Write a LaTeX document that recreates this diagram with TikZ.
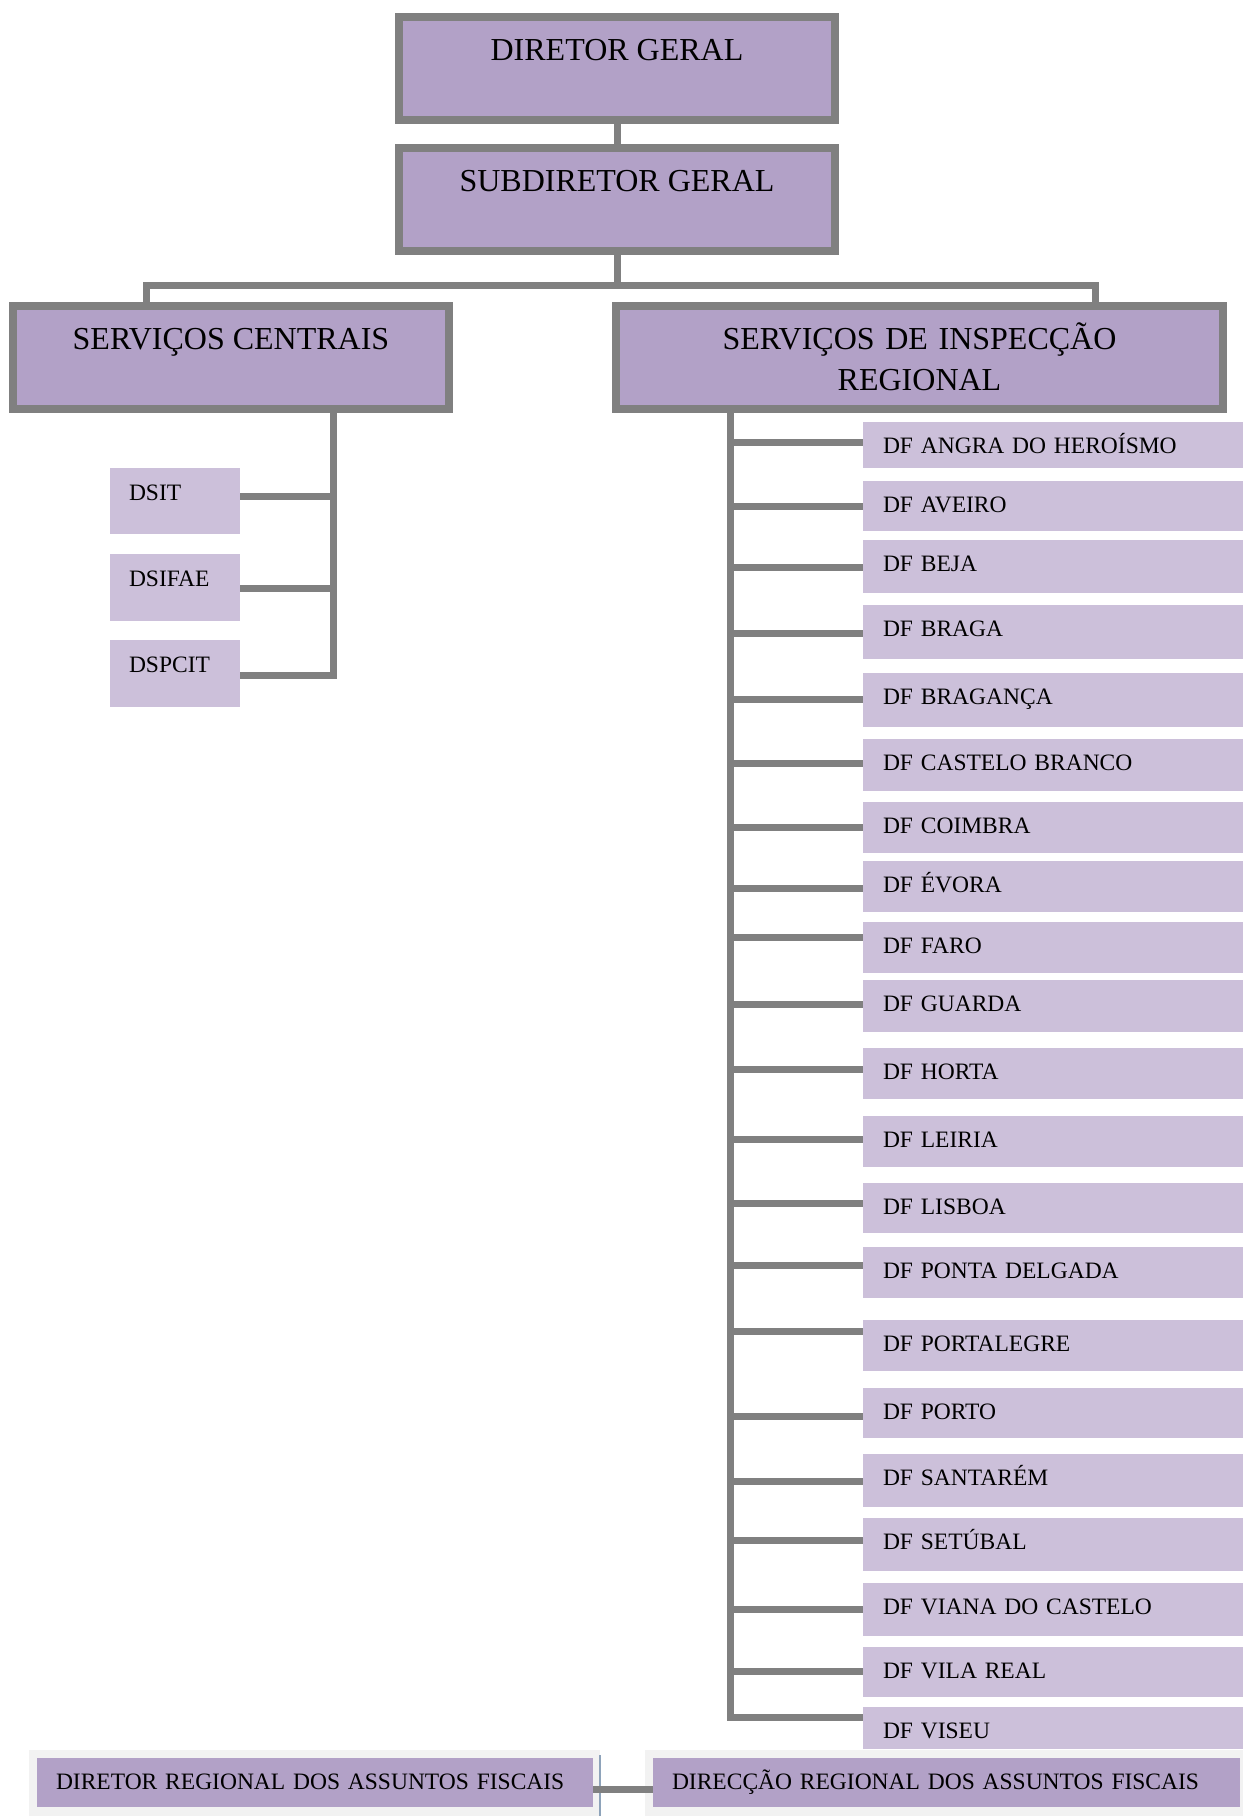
\documentclass[tikz,border=0pt]{standalone}
\usepackage{fontspec}
\setmainfont{Liberation Serif}
\usepackage{tikz}
\usetikzlibrary{positioning}
\usetikzlibrary{calc}
\definecolor{boxpurple}{HTML}{B2A1C7}
\definecolor{boxlilac}{HTML}{CCC0DA}
\definecolor{linegray}{HTML}{808080}
\definecolor{framegray}{HTML}{F2F2F2}
\definecolor{sepblue}{HTML}{8EA3BA}

\begin{document}
\begin{tikzpicture}[
  x=1pt, y=-1pt,
  every node/.style={inner sep=0pt, outer sep=0pt},
  head/.style={draw=linegray, line width=8pt, fill=boxpurple, anchor=north,
    minimum width=436pt, font=\fontsize{32}{41}\selectfont,
    text height=43pt, text depth=60pt},
  unit/.style={fill=boxlilac, anchor=north west, inner xsep=19pt, text width=92pt,
    align=left, font=\fontsize{23.5}{29}\selectfont, text height=32pt},
  dept/.style={fill=boxlilac, anchor=north west, inner xsep=20pt, text width=340pt,
    align=left, font=\fontsize{23.5}{29}\selectfont, text height=31pt},
  frame/.style={fill=framegray, anchor=north west, minimum height=66pt},
  regional/.style={fill=boxpurple, anchor=north west, inner xsep=19pt,
    align=left, font=\fontsize{23.5}{29}\selectfont, text height=31pt, text depth=18pt},
  link/.style={draw=linegray, line width=7pt}]

  \useasboundingbox (0,0) rectangle (1243,1816);

  % Position the top of the chart
  \node[head] (dg) at (617,17) {DIRETOR GERAL};
  \node[head] (sdg) at (617,148) {SUBDIRETOR GERAL};
  \node[head] (sc) at (231,306) {SERVIÇOS CENTRAIS};
  \node[head, minimum width=607pt, text width=607pt, align=center] (sir) at (919.5,306)
    {SERVIÇOS DE INSPECÇÃO\\REGIONAL};

  \coordinate (busL) at (146,285);
  \coordinate (busR) at (1095,285);
  \coordinate (lspine) at (333.5,409);
  \coordinate (spine) at (730,409);

  \draw[link] (dg.south) -- (sdg.north);
  \draw[link] (sdg.south) -- (sdg.south |- busL);
  \draw[link] (busL |- sc.north) -- (busL) -- (busR) -- (busR |- sir.north);

  % Central services
  \foreach \nm/\ya/\yb/\yc/\txt in {dsit/468/534/496/DSIT,
    dsifae/554/621/588/DSIFAE, dspcit/640/707/675/DSPCIT}
  {
    \pgfmathsetmacro\dd{\yb-\ya-32}
    \pgfmathsetmacro\dc{\yc-\ya}
    \node[unit, text depth=\dd pt] (\nm) at (110,\ya) {\txt};
    \coordinate (\nm-in) at ([yshift=-\dc pt]\nm.north east);
    \draw[link] (\nm-in) -- (lspine |- \nm-in);
  }
  \draw[link] (sc.south -| lspine) -- (lspine |- dspcit-in) -- (dspcit-in);

  % Regional services
  \foreach \nm/\ya/\yb/\yc/\txt in {
    angra/422/468/442/DF ANGRA DO HEROÍSMO,
    aveiro/481/531/506/DF AVEIRO,
    beja/540/593/567/DF BEJA,
    braga/605/659/633/DF BRAGA,
    braganca/673/727/699/DF BRAGANÇA,
    castelo/739/791/763/DF CASTELO BRANCO,
    coimbra/802/853/827/DF COIMBRA,
    evora/861/912/888/DF ÉVORA,
    faro/922/973/937/DF FARO,
    guarda/980/1032/1004/DF GUARDA,
    horta/1048/1099/1069/DF HORTA,
    leiria/1116/1167/1139/DF LEIRIA,
    lisboa/1183/1233/1203/DF LISBOA,
    pdelgada/1247/1298/1265/DF PONTA DELGADA,
    portalegre/1320/1371/1331/DF PORTALEGRE,
    porto/1388/1438/1416/DF PORTO,
    santarem/1454/1507/1481/DF SANTARÉM,
    setubal/1518/1571/1540/DF SETÚBAL,
    viana/1583/1636/1609/DF VIANA DO CASTELO,
    vreal/1647/1697/1671/DF VILA REAL,
    viseu/1707/1749/1717/DF VISEU}
  {
    \pgfmathsetmacro\dd{\yb-\ya-31}
    \pgfmathsetmacro\dc{\yc-\ya}
    \node[dept, text depth=\dd pt] (\nm) at (863,\ya) {\txt};
    \coordinate (\nm-in) at ([yshift=-\dc pt]\nm.north west);
    \draw[link] (spine |- \nm-in) -- (\nm-in);
  }
  \draw[link] (sir.south -| spine) -- (spine |- viseu-in) -- (viseu-in);

  % Regional fiscal affairs at the bottom
  \node[frame, minimum width=571pt] (lframe) at (29,1750) {};
  \node[frame, minimum width=598pt] (rframe) at (645,1750) {};
  \draw[sepblue, line width=2pt] ([yshift=-5pt]lframe.north east) -- (lframe.south east);
  \node[regional, text width=518pt] (drf) at (37,1758)
    {\mbox{DIRETOR REGIONAL DOS ASSUNTOS FISCAIS}};
  \node[regional, text width=549pt] (drac) at (653,1758)
    {\mbox{DIRECÇÃO REGIONAL DOS ASSUNTOS FISCAIS}};
  \draw[link] ([yshift=-7pt]drf.east) -- ([yshift=-7pt]drac.west);
\end{tikzpicture}
\end{document}
